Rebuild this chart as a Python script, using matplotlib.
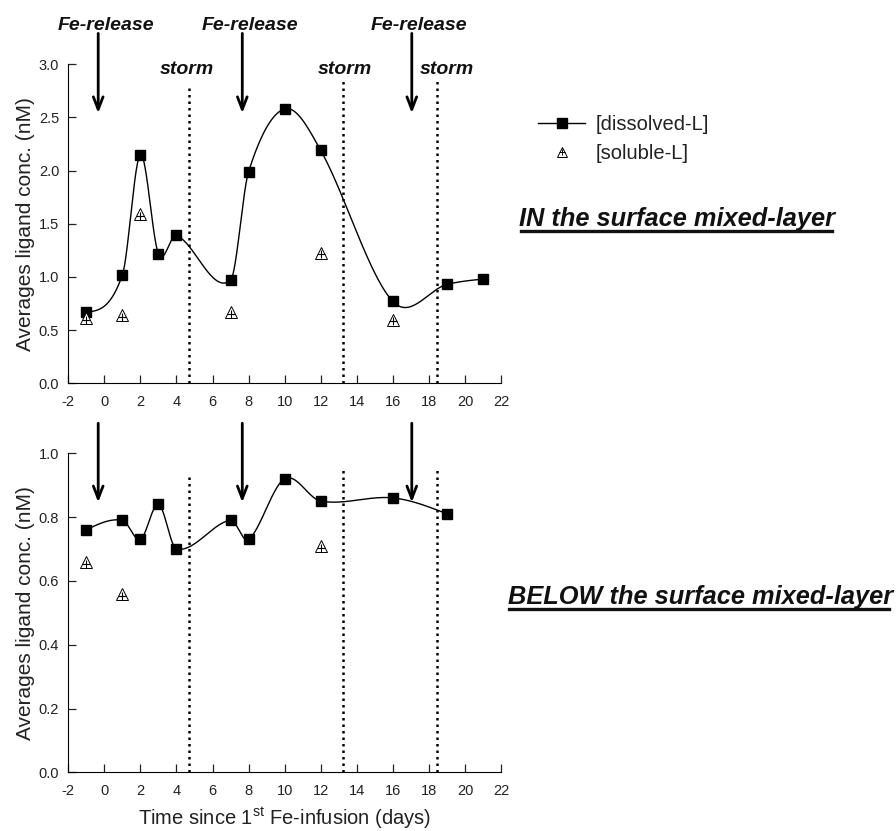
import numpy as np
import matplotlib
matplotlib.use("Agg")
import matplotlib.pyplot as plt
from matplotlib.lines import Line2D

plt.rcParams['font.family'] = ['Liberation Sans', 'DejaVu Sans']
plt.rcParams['mathtext.fontset'] = 'custom'
plt.rcParams['mathtext.rm'] = 'Liberation Sans'

# ---- data ----
top_diss_x = [-1, 1, 2, 3, 4, 7, 8, 10, 12, 16, 19, 21]
top_diss_y = [0.67, 1.02, 2.15, 1.22, 1.39, 0.97, 1.99, 2.58, 2.19, 0.77, 0.93, 0.98]
top_sol_x = [-1, 1, 2, 7, 12, 16]
top_sol_y = [0.61, 0.64, 1.59, 0.67, 1.23, 0.60]

bot_diss_x = [-1, 1, 2, 3, 4, 7, 8, 10, 12, 16, 19]
bot_diss_y = [0.76, 0.79, 0.73, 0.84, 0.70, 0.79, 0.73, 0.92, 0.85, 0.86, 0.81]
bot_sol_x = [-1, 1, 12]
bot_sol_y = [0.66, 0.56, 0.71]

fe_release_days = [-0.34, 7.65, 17.05]
storm_days = [4.69, 13.25, 18.43]
xticks = list(range(-2, 23, 2))


def smooth_curve(x, y, n=60):
    """Piecewise cubic Hermite curve with Catmull-Rom style tangents."""
    x = np.asarray(x, float)
    y = np.asarray(y, float)
    m = len(x)
    t = np.zeros(m)
    for i in range(1, m - 1):
        t[i] = (y[i + 1] - y[i - 1]) / (x[i + 1] - x[i - 1])
    s0 = (y[1] - y[0]) / (x[1] - x[0])
    s1 = (y[-1] - y[-2]) / (x[-1] - x[-2])
    t[0] = 1.5 * s0 - 0.5 * t[1]
    t[-1] = 1.5 * s1 - 0.5 * t[-2]
    xs_all, ys_all = [], []
    for i in range(m - 1):
        h = x[i + 1] - x[i]
        u = np.linspace(0, 1, n)
        h00 = 2 * u ** 3 - 3 * u ** 2 + 1
        h10 = u ** 3 - 2 * u ** 2 + u
        h01 = -2 * u ** 3 + 3 * u ** 2
        h11 = u ** 3 - u ** 2
        xs_all.append(x[i] + u * h)
        ys_all.append(h00 * y[i] + h10 * h * t[i] + h01 * y[i + 1] + h11 * h * t[i + 1])
    return np.concatenate(xs_all), np.concatenate(ys_all)


fig = plt.figure(figsize=(8.96, 8.31), dpi=100)
ax1 = fig.add_axes([0.0762, 0.5387, 0.483, 0.384])
ax2 = fig.add_axes([0.0762, 0.0706, 0.483, 0.384])

tick_color = '#222222'


def style(ax, ymax, yt):
    ax.set_xlim(-2, 22)
    ax.set_ylim(0, ymax)
    ax.spines['top'].set_visible(False)
    ax.spines['right'].set_visible(False)
    ax.set_xticks(xticks)
    ax.set_xticklabels([str(t) for t in xticks])
    ax.set_yticks(yt)
    ax.set_yticklabels(['%.1f' % v for v in yt])
    ax.tick_params(direction='in', length=6, width=0.9, labelsize=10.5,
                   colors=tick_color)
    ax.tick_params(axis='x', pad=8.5)
    ax.tick_params(axis='y', pad=6.5)
    ax.set_ylabel('Averages ligand conc. (nM)', fontsize=15, labelpad=3,
                  color=tick_color)


style(ax1, 3.0, [0.0, 0.5, 1.0, 1.5, 2.0, 2.5, 3.0])
style(ax2, 1.0, [0.0, 0.2, 0.4, 0.6, 0.8, 1.0])
ax2.set_xlabel('Time since 1$^{\\mathrm{st}}$ Fe-infusion (days)', fontsize=14.5,
               labelpad=5, color=tick_color)


def draw_series(ax, dx, dy, sx, sy):
    xs, ys = smooth_curve(dx, dy)
    ax.plot(xs, ys, color='black', lw=1.0, zorder=3)
    ax.plot(dx, dy, ls='none', marker='s', ms=7.5, color='black', zorder=4)
    ax.plot(sx, sy, ls='none', marker='^', ms=8, mfc='white', mec='black',
            mew=0.7, zorder=4)
    ax.plot(sx, [v - 0.006 * ax.get_ylim()[1] for v in sy], ls='none', marker='+',
            ms=5.5, color='black', mew=0.8, zorder=5)


draw_series(ax1, top_diss_x, top_diss_y, top_sol_x, top_sol_y)
draw_series(ax2, bot_diss_x, bot_diss_y, bot_sol_x, bot_sol_y)

dot = dict(color='black', lw=1.8, linestyle=(0, (1, 1.6)), clip_on=False, zorder=2)
arrowprops = dict(arrowstyle='->, head_length=0.9, head_width=0.35', lw=2,
                  color='black', shrinkA=0, shrinkB=0)

# top panel annotations
storm_top = [2.79, 2.87, 2.87]
for s, ytop in zip(storm_days, storm_top):
    ax1.plot([s, s], [0, ytop], **dot)
storm_lbl_x = [4.59, 13.35, 19.0]
for lx in storm_lbl_x:
    ax1.text(lx, 2.95, 'storm', fontsize=14, fontweight='bold', fontstyle='italic',
             ha='center', va='center', color='#111111', clip_on=False)
fe_lbl_x = [0.09, 8.08, 17.45]
for a, lx in zip(fe_release_days, fe_lbl_x):
    ax1.annotate('', xy=(a, 2.54), xytext=(a, 3.29), arrowprops=arrowprops,
                 annotation_clip=False)
    ax1.text(lx, 3.36, 'Fe-release', fontsize=14, fontweight='bold',
             fontstyle='italic', ha='center', va='center', color='#111111',
             clip_on=False)

# bottom panel annotations
storm_bot = [0.934, 0.956, 0.956]
for s, ytop in zip(storm_days, storm_bot):
    ax2.plot([s, s], [0, ytop], **dot)
for a in fe_release_days:
    ax2.annotate('', xy=(a, 0.846), xytext=(a, 1.094), arrowprops=arrowprops,
                 annotation_clip=False)

# legend
h1 = Line2D([], [], color='black', lw=1.0, marker='s', ms=7, mfc='black')
h2a = Line2D([], [], ls='none', marker='^', ms=7, mfc='white', mec='black', mew=0.7)
h2b = Line2D([], [], ls='none', marker='+', ms=4.5, color='black', mew=0.7)
leg = fig.legend([h1, (h2a, h2b)], ['[dissolved-L]', '[soluble-L]'],
                 loc='upper left', bbox_to_anchor=(0.601, 0.862), frameon=False,
                 fontsize=14.5, handlelength=2.3, handletextpad=0.55,
                 labelspacing=0.5, borderaxespad=0, borderpad=0)
for t in leg.get_texts():
    t.set_color(tick_color)

t_in = fig.text(0.5795, 1 - 219 / 831, 'IN the surface mixed-layer', fontsize=18.3,
                fontweight='bold', fontstyle='italic', ha='left', va='center',
                color='#111111')
t_below = fig.text(0.5665, 1 - 597 / 831, 'BELOW the surface mixed-layer',
                   fontsize=18.3, fontweight='bold', fontstyle='italic', ha='left',
                   va='center', color='#111111')

fig.canvas.draw()
r = fig.canvas.get_renderer()
for t in (t_in, t_below):
    bb = t.get_window_extent(r).transformed(fig.transFigure.inverted())
    yline = bb.y0 - 0.0005
    fig.add_artist(Line2D([bb.x0 + 0.002, bb.x1 - 0.004], [yline, yline],
                          color='#111111', lw=2.4, transform=fig.transFigure))

fig.savefig('out.png', dpi=100)
